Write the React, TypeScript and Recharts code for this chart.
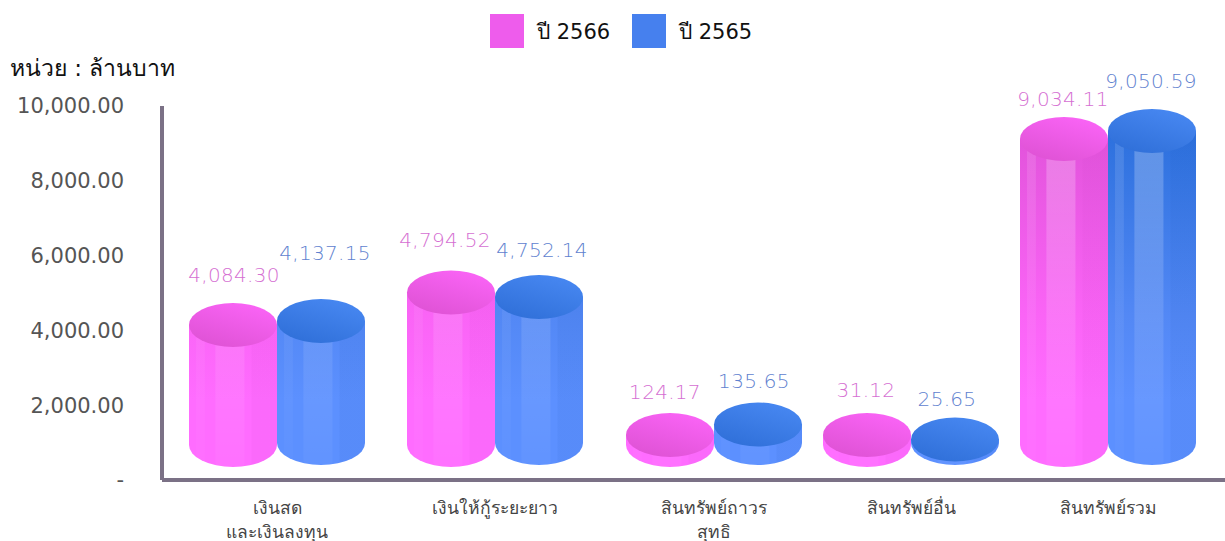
// Cylinder bar chart: assets by year
import { BarChart, Bar, XAxis, YAxis, Legend, LabelList } from 'recharts'

const categories = ['เงินสด\nและเงินลงทุน', 'เงินให้กู้ระยะยาว', 'สินทรัพย์ถาวร\nสุทธิ', 'สินทรัพย์อื่น', 'สินทรัพย์รวม']
// printed values
const values2566 = [4084.3, 4794.52, 124.17, 31.12, 9034.11]
const values2565 = [4137.15, 4752.14, 135.65, 25.65, 9050.59]
// heights as drawn in the picture (the small cylinders are not to scale there)
const drawn2566 = [4144, 5013, 1203, 1203, 9118]
const drawn2565 = [4251, 4893, 1484, 1083, 9332]
const yTicks = [0, 2000, 4000, 6000, 8000, 10000]

const data = categories.map((name, i) => ({
  name,
  d2566: drawn2566[i],
  d2565: drawn2565[i],
  v2566: values2566[i],
  v2565: values2565[i],
}))

const WIDTH = 1225
const HEIGHT = 541
const FONT = '"DejaVu Sans", sans-serif'
const AXIS_COLOR = '#7b7186'
const BAR_W = 88
const RY = 22

// category centres in the source are unevenly spaced
const centres = [277, 495, 714, 911, 1108]
const BAND = 218

// label nudges: [dx, distance above cylinder top]
const labelPos2566 = [[1, 50], [-6, 53], [-5, 43], [-1, 45], [-1, 40]]
const labelPos2565 = [[4, 68], [3, 47], [-4, 43], [-8, 40], [-1, 50]]

function unevenBandScale() {
  let dom: string[] = categories
  let rng: number[] = [162, WIDTH]
  const scale: any = (v: string) => {
    const i = dom.indexOf(v)
    return i < 0 ? undefined : centres[i] - BAND / 2
  }
  scale.domain = (d?: string[]) => {
    if (d === undefined) return dom
    dom = d
    return scale
  }
  scale.range = (r?: number[]) => {
    if (r === undefined) return rng
    rng = r
    return scale
  }
  scale.bandwidth = () => BAND
  scale.copy = () => unevenBandScale().domain(dom).range(rng)
  return scale
}

function Cylinder(props: any) {
  const { x, y, width, height, series, baseLift } = props
  const baseY = y + height - baseLift
  const w = width
  const rx = w / 2
  const cx = x + rx
  const side = `M${x},${y} L${x},${baseY} A${rx},${RY} 0 0 0 ${x + w},${baseY} L${x + w},${y} Z`

  // highlight strip whose lower end follows the cylinder's base curve
  const strip = (from: number, to: number) => {
    const x1 = x + w * from
    const x2 = x + w * to
    const arcY = (px: number) => baseY + RY * Math.sqrt(1 - ((px - cx) / rx) ** 2)
    return `M${x1},${y} L${x1},${arcY(x1)} A${rx},${RY} 0 0 0 ${x2},${arcY(x2)} L${x2},${y} Z`
  }

  return (
    <g>
      <path d={side} fill={`url(#side${series})`} />
      <path d={side} fill={`url(#shade${series})`} />
      <path d={strip(0.08, 0.18)} fill="url(#strip)" opacity={0.5} />
      <path d={strip(0.3, 0.63)} fill="url(#strip)" />
      <ellipse cx={cx} cy={y} rx={rx} ry={RY} fill={`url(#top${series})`} />
    </g>
  )
}

function CategoryTick({ x, y, payload }: any) {
  const lines = String(payload.value).split('\n')
  return (
    <text x={x} y={y} textAnchor="middle" fontFamily={FONT} fontSize={17.5} fontWeight={300} fill="#444">
      {lines.map((line, i) => (
        <tspan key={i} x={x} dy={i === 0 ? 26 : 24}>{line}</tspan>
      ))}
    </text>
  )
}

function makeValueLabel(values: number[], pos: number[][], color: string) {
  return function ValueLabel({ x, y, width, index }: any) {
    const [dx, lift] = pos[index]
    return (
      <text
        x={x + width / 2 + dx}
        y={y - lift}
        dy={7}
        textAnchor="middle"
        fontFamily={FONT}
        fontSize={20}
        fontWeight={300}
        letterSpacing={0.3}
        fill={color}
      >
        {values[index].toLocaleString('en-US', { minimumFractionDigits: 2, maximumFractionDigits: 2 })}
      </text>
    )
  }
}

function LegendBox({ payload }: any) {
  return (
    <div style={{ display: 'flex', fontFamily: FONT, fontSize: 21, color: '#111', height: 34, alignItems: 'center' }}>
      {(payload || []).map((p: any) => (
        <div key={p.value} style={{ display: 'flex', alignItems: 'center', width: 142 }}>
          <span style={{ width: 34, height: 34, background: p.color, marginRight: 13 }} />
          {p.value}
        </div>
      ))}
    </div>
  )
}

export default function App() {
  return (
    <div style={{ position: 'absolute', left: 0, top: 0, width: WIDTH, height: HEIGHT, background: '#fff' }}>
      <BarChart
        width={WIDTH}
        height={HEIGHT}
        data={data}
        barSize={BAR_W}
        barGap={0}
        margin={{ top: 72, right: 0, bottom: 0, left: 0 }}
      >
        <defs>
          <linearGradient id="sidePink" gradientUnits="userSpaceOnUse" x1="0" y1="120" x2="0" y2="400">
            <stop offset="0" stopColor="#e052d9" />
            <stop offset="0.7" stopColor="#fa64f6" />
            <stop offset="1" stopColor="#ff6cff" />
          </linearGradient>
          <linearGradient id="sideBlue" gradientUnits="userSpaceOnUse" x1="0" y1="120" x2="0" y2="400">
            <stop offset="0" stopColor="#2a6fdc" />
            <stop offset="0.7" stopColor="#5388f5" />
            <stop offset="1" stopColor="#5c90ff" />
          </linearGradient>
          <linearGradient id="shadePink" x1="0" y1="0" x2="1" y2="0">
            <stop offset="0.7" stopColor="#b030b0" stopOpacity={0} />
            <stop offset="0.72" stopColor="#b030b0" stopOpacity={0.05} />
          </linearGradient>
          <linearGradient id="shadeBlue" x1="0" y1="0" x2="1" y2="0">
            <stop offset="0.7" stopColor="#1a4fb0" stopOpacity={0} />
            <stop offset="0.72" stopColor="#1a4fb0" stopOpacity={0.07} />
          </linearGradient>
          <linearGradient id="strip" gradientUnits="userSpaceOnUse" x1="0" y1="120" x2="0" y2="470">
            <stop offset="0" stopColor="#fff" stopOpacity={0.26} />
            <stop offset="0.55" stopColor="#fff" stopOpacity={0.12} />
            <stop offset="1" stopColor="#fff" stopOpacity={0.03} />
          </linearGradient>
          <linearGradient id="topPink" x1="0.2" y1="1" x2="0.8" y2="0">
            <stop offset="0" stopColor="#de52d4" />
            <stop offset="1" stopColor="#fb64f7" />
          </linearGradient>
          <linearGradient id="topBlue" x1="0.2" y1="1" x2="0.8" y2="0">
            <stop offset="0" stopColor="#2f6fd8" />
            <stop offset="1" stopColor="#4888f2" />
          </linearGradient>
        </defs>
        <Legend
          verticalAlign="top"
          align="left"
          itemSorter={null}
          content={<LegendBox />}
          wrapperStyle={{ left: 490, top: 14, width: 300, height: 34 }}
        />
        <XAxis
          dataKey="name"
          scale={unevenBandScale() as any}
          axisLine={{ stroke: AXIS_COLOR, strokeWidth: 4 }}
          tickLine={false}
          tick={<CategoryTick />}
          interval={0}
          height={61}
        />
        <YAxis
          domain={[0, 10000]}
          ticks={yTicks}
          width={162}
          axisLine={{ stroke: AXIS_COLOR, strokeWidth: 4 }}
          tickLine={false}
          tickSize={0}
          tickMargin={38}
          tick={{ fontFamily: FONT, fontSize: 21, fill: '#555' }}
          tickFormatter={(v: number) =>
            v === 0 ? '-' : v.toLocaleString('en-US', { minimumFractionDigits: 2, maximumFractionDigits: 2 })
          }
        />
        <Bar
          dataKey="d2566"
          name="ปี 2566"
          fill="#ee5cec"
          isAnimationActive={false}
          shape={(p: any) => <Cylinder {...p} series="Pink" baseLift={35} />}
        >
          <LabelList content={makeValueLabel(values2566, labelPos2566, '#d56fd2')} />
        </Bar>
        <Bar
          dataKey="d2565"
          name="ปี 2565"
          fill="#4680ee"
          isAnimationActive={false}
          shape={(p: any) => <Cylinder {...p} series="Blue" baseLift={37} />}
        >
          <LabelList content={makeValueLabel(values2565, labelPos2565, '#5f82cf')} />
        </Bar>
        <text x={10} y={76} fontFamily={FONT} fontSize={23} fill="#111">หน่วย : ล้านบาท</text>
      </BarChart>
    </div>
  )
}
